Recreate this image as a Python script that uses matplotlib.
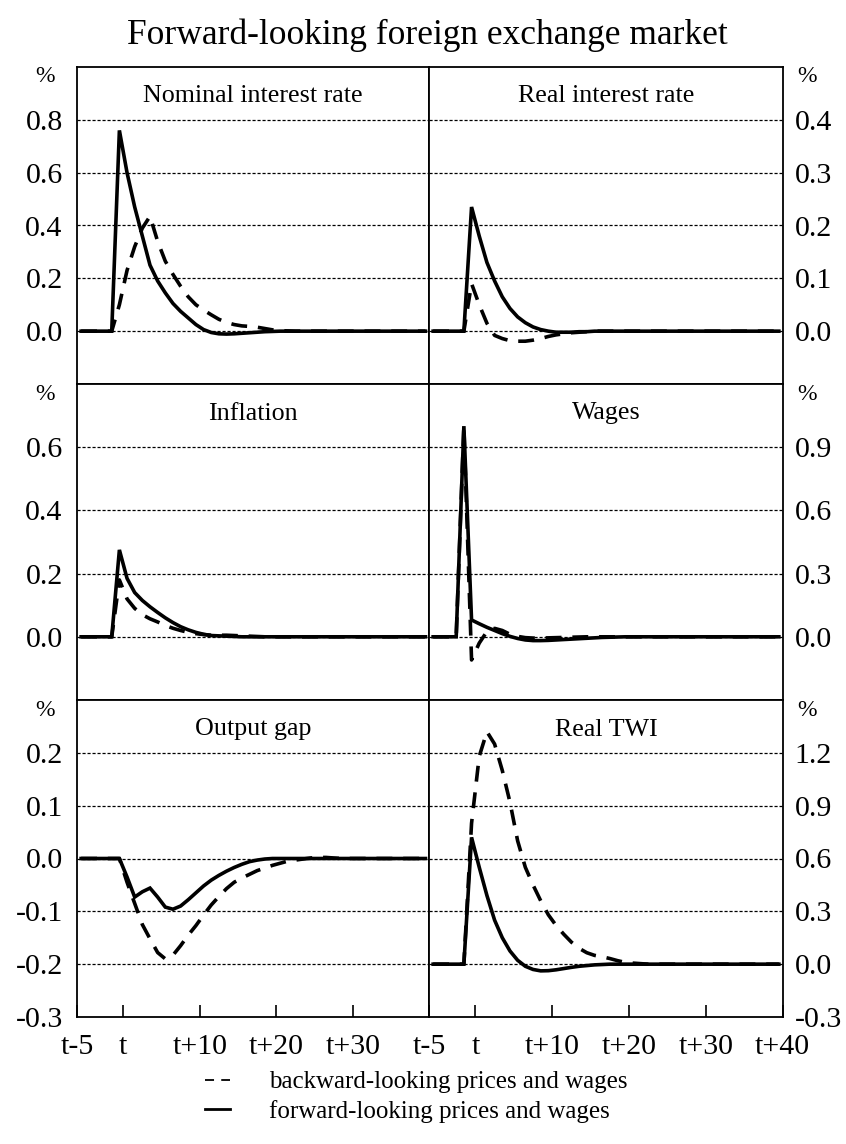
import matplotlib
matplotlib.use("Agg")
import matplotlib.pyplot as plt
from matplotlib.lines import Line2D

plt.rcParams['font.family'] = ['Liberation Serif', 'DejaVu Serif']

# ---------------- data (periods t-5 ... t+40) ----------------
periods = list(range(-5, 41))

nominal_fwd = [0, 0, 0, 0, 0,
               0.76, 0.60, 0.47, 0.36, 0.25, 0.19, 0.145, 0.105, 0.075, 0.05, 0.025,
               0.006, -0.005, -0.01, -0.011, -0.01, -0.008, -0.006, -0.004, -0.002, -0.001,
               0, 0, 0, 0, 0, 0, 0, 0, 0, 0, 0, 0, 0, 0, 0, 0, 0, 0, 0, 0]
nominal_bwd = [0, 0, 0, 0, 0,
               0.10, 0.23, 0.32, 0.39, 0.435, 0.34, 0.265, 0.215, 0.17, 0.13, 0.10,
               0.08, 0.062, 0.045, 0.033, 0.025, 0.02, 0.018, 0.015, 0.01, 0.005, 0.002, 0.001,
               0, 0, 0, 0, 0, 0, 0, 0, 0, 0, 0, 0, 0, 0, 0, 0, 0, 0]

real_fwd = [0, 0, 0, 0, 0,
            0.235, 0.18, 0.13, 0.095, 0.065, 0.043, 0.027, 0.016, 0.008, 0.003, 0.0,
            -0.002, -0.002, -0.002, -0.001, -0.001,
            0, 0, 0, 0, 0, 0, 0, 0, 0, 0, 0, 0, 0, 0, 0, 0, 0, 0, 0, 0, 0, 0, 0, 0, 0]
real_bwd = [0, 0, 0, 0, 0,
            0.09, 0.05, 0.015, -0.008, -0.014, -0.018, -0.019, -0.019, -0.017, -0.014, -0.01,
            -0.007, -0.005, -0.003, -0.002, -0.001,
            0, 0, 0, 0, 0, 0, 0, 0, 0, 0, 0, 0, 0, 0, 0, 0, 0, 0, 0, 0, 0, 0, 0, 0, 0]

infl_fwd = [0, 0, 0, 0, 0,
            0.275, 0.185, 0.14, 0.115, 0.095, 0.077, 0.06, 0.045, 0.032, 0.022, 0.014,
            0.008, 0.004, 0.003, 0.002, 0.001,
            0, 0, 0, 0, 0, 0, 0, 0, 0, 0, 0, 0, 0, 0, 0, 0, 0, 0, 0, 0, 0, 0, 0, 0, 0]
infl_bwd = [0, 0, 0, 0, 0,
            0.18, 0.12, 0.09, 0.07, 0.057, 0.047, 0.036, 0.027, 0.02, 0.014, 0.01,
            0.007, 0.005, 0.005, 0.005, 0.004, 0.003, 0.002, 0.001,
            0, 0, 0, 0, 0, 0, 0, 0, 0, 0, 0, 0, 0, 0, 0, 0, 0, 0, 0, 0, 0, 0]

wages_fwd = [0, 0, 0, 0, 1.0,
             0.08, 0.062, 0.045, 0.03, 0.015, 0.002, -0.008, -0.015, -0.018, -0.018, -0.017,
             -0.015, -0.013, -0.011, -0.009, -0.007, -0.005, -0.003, -0.002, -0.001,
             0, 0, 0, 0, 0, 0, 0, 0, 0, 0, 0, 0, 0, 0, 0, 0, 0, 0, 0, 0, 0]
wages_bwd = [0, 0, 0, 0, 1.0,
             -0.11, -0.03, 0.025, 0.04, 0.03, 0.012, 0.002, -0.004, -0.006, -0.006, -0.005,
             -0.004, -0.003, -0.002, -0.001,
             0, 0, 0, 0, 0, 0, 0, 0, 0, 0, 0, 0, 0, 0, 0, 0, 0, 0, 0, 0, 0, 0, 0, 0, 0, 0]

gap_fwd = [0, 0, 0, 0, 0,
           0, -0.035, -0.073, -0.063, -0.056, -0.073, -0.092, -0.096, -0.09, -0.078, -0.065,
           -0.052, -0.041, -0.032, -0.024, -0.017, -0.011, -0.006, -0.003, -0.001,
           0, 0, 0, 0, 0, 0, 0, 0, 0, 0, 0, 0, 0, 0, 0, 0, 0, 0, 0, 0, 0]
gap_bwd = [0, 0, 0, 0, 0,
           0, -0.045, -0.085, -0.125, -0.152, -0.178, -0.19, -0.183, -0.165, -0.145, -0.127,
           -0.107, -0.088, -0.072, -0.057, -0.045, -0.037, -0.03, -0.023, -0.018, -0.013,
           -0.009, -0.005, -0.003, -0.001, 0.001, 0.002, 0.002, 0.001,
           0, 0, 0, 0, 0, 0, 0, 0, 0, 0, 0, 0]

twi_fwd = [0, 0, 0, 0, 0,
           0.72, 0.55, 0.39, 0.25, 0.15, 0.075, 0.022, -0.012, -0.03, -0.038, -0.037,
           -0.032, -0.025, -0.018, -0.012, -0.008, -0.004, -0.002,
           0, 0, 0, 0, 0, 0, 0, 0, 0, 0, 0, 0, 0, 0, 0, 0, 0, 0, 0, 0, 0, 0, 0]
twi_bwd = [0, 0, 0, 0, 0,
           0.8, 1.18, 1.32, 1.25, 1.1, 0.92, 0.7, 0.55, 0.45, 0.36, 0.28,
           0.22, 0.17, 0.125, 0.09, 0.065, 0.05, 0.042, 0.032, 0.02, 0.01, 0.006, 0.003,
           0, 0, 0, 0, 0, 0, 0, 0, 0, 0, 0, 0, 0, 0, 0, 0, 0, 0]

titles = ["Nominal interest rate", "Real interest rate", "Inflation",
          "Wages", "Output gap", "Real TWI"]
yticks_list = [[0.0, 0.2, 0.4, 0.6, 0.8],
               [0.0, 0.1, 0.2, 0.3, 0.4],
               [0.0, 0.2, 0.4, 0.6],
               [0.0, 0.3, 0.6, 0.9],
               [-0.3, -0.2, -0.1, 0.0, 0.1, 0.2],
               [-0.3, 0.0, 0.3, 0.6, 0.9, 1.2]]
ylims = [(-0.2, 1.0), (-0.1, 0.5), (-0.2, 0.8), (-0.3, 1.2), (-0.3, 0.3), (-0.3, 1.5)]
fwd_series = [nominal_fwd, real_fwd, infl_fwd, wages_fwd, gap_fwd, twi_fwd]
bwd_series = [nominal_bwd, real_bwd, infl_bwd, wages_bwd, gap_bwd, twi_bwd]
xtick_pos = [-5.5, 0.5, 10.5, 20.5, 30.5, 40.5]
xtick_lab = ["t-5", "t", "t+10", "t+20", "t+30", "t+40"]
legend_labels = ["backward-looking prices and wages", "forward-looking prices and wages"]

# ---------------- layout ----------------
W, H = 846, 1144
fig = plt.figure(figsize=(W / 100, H / 100), dpi=100)

def fbox(x0, y0, x1, y1):
    return [x0 / W, 1 - y1 / H, (x1 - x0) / W, (y1 - y0) / H]

cols = [(77.3, 429.3), (429.3, 782.7)]
rows = [(67, 384), (384, 700), (700, 1017)]

LBL = 21.5
for i in range(6):
    r, c = divmod(i, 2)
    x0, x1 = cols[c]
    y0, y1 = rows[r]
    ax = fig.add_axes(fbox(x0, y0, x1, y1))
    ax.set_xlim(-5.5, 40.5)
    ax.set_ylim(*ylims[i])
    for v in yticks_list[i]:
        if ylims[i][0] < v < ylims[i][1]:
            ax.axhline(v, color='black', lw=0.9, ls=(0, (2.5, 1.5)), zorder=1)
    ax.plot(periods, bwd_series[i], color='black', lw=2.6, ls=(0, (4.4, 3.0)), zorder=3)
    ax.plot(periods, fwd_series[i], color='black', lw=2.6, zorder=4,
            solid_joinstyle='miter')
    for s in ax.spines.values():
        s.set_linewidth(1.3)
    ax.set_yticks(yticks_list[i])
    ax.set_yticklabels([f"{v:.1f}" for v in yticks_list[i]])
    if c == 0:
        ax.tick_params(axis='y', length=0, pad=10.5, labelsize=LBL)
    else:
        ax.yaxis.tick_right()
        ax.tick_params(axis='y', length=0, pad=8.5, labelsize=LBL,
                       labelleft=False, labelright=True)
    if r == 2:
        n = 5 if c == 0 else 6
        ax.set_xticks(xtick_pos[:n])
        ax.set_xticklabels(xtick_lab[:n])
        ax.tick_params(axis='x', direction='in', length=8.5, width=1.2,
                       pad=12, labelsize=LBL, top=False)
    else:
        ax.set_xticks([])
    ax.text(0.5, 1 - 29.5 / (y1 - y0), titles[i], transform=ax.transAxes,
            ha='center', va='center', fontsize=18.7)
    if c == 0:
        fig.text(45 / W, 1 - (y0 + 10) / H, "%", ha='center', va='center', fontsize=17)
    else:
        fig.text(807 / W, 1 - (y0 + 10) / H, "%", ha='center', va='center', fontsize=17)

fig.text(427.5 / W, 1 - 35 / H, "Forward-looking foreign exchange market",
         ha='center', va='center', fontsize=25.5)

handles = [Line2D([], [], color='black', lw=1.3, ls=(0, (5, 4))),
           Line2D([], [], color='black', lw=2.0)]
fig.legend(handles, legend_labels, loc='center left',
           bbox_to_anchor=(205 / W, 1 - 1097 / H), frameon=False, fontsize=18,
           handlelength=1.0, handletextpad=1.55, labelspacing=0.28,
           borderpad=0, borderaxespad=0)

fig.savefig("out.png", dpi=100)
